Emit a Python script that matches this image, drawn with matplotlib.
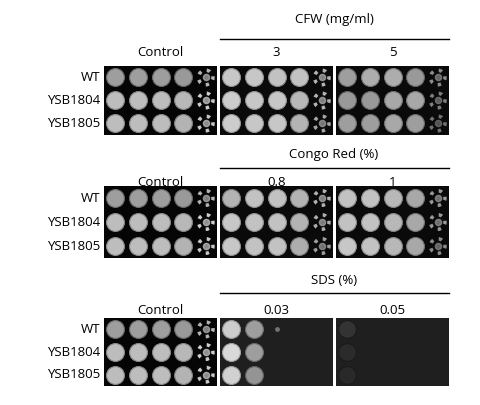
import numpy as np
import matplotlib.pyplot as plt

strains = ["WT", "YSB1804", "YSB1805"]
groups = ["CFW (mg/ml)", "Congo Red (%)", "SDS (%)"]
panel_labels = [["Control", "3", "5"], ["Control", "0.8", "1"], ["Control", "0.03", "0.05"]]

# spot brightness per panel: rows = strains, cols = 5 serial dilutions (0 = no growth)
control = [[0.62, 0.62, 0.62, 0.60, 0.70],
           [0.74, 0.74, 0.74, 0.72, 0.80],
           [0.74, 0.74, 0.74, 0.70, 0.78]]
cfw3 = [[0.78, 0.78, 0.76, 0.76, 0.70],
        [0.80, 0.78, 0.78, 0.72, 0.70],
        [0.80, 0.78, 0.78, 0.70, 0.65]]
cfw5 = [[0.62, 0.68, 0.68, 0.60, 0.55],
        [0.60, 0.60, 0.66, 0.66, 0.50],
        [0.62, 0.62, 0.66, 0.62, 0.45]]
congo08 = [[0.70, 0.76, 0.76, 0.70, 0.70],
           [0.78, 0.76, 0.76, 0.70, 0.68],
           [0.78, 0.76, 0.76, 0.68, 0.62]]
congo1 = [[0.76, 0.76, 0.72, 0.66, 0.60],
          [0.76, 0.76, 0.72, 0.66, 0.60],
          [0.78, 0.76, 0.72, 0.66, 0.55]]
sds003 = [[0.80, 0.62, 0.45, 0.0, 0.0],
          [0.85, 0.62, 0.0, 0.0, 0.0],
          [0.82, 0.58, 0.0, 0.0, 0.0]]
sds005 = [[0.20, 0.0, 0.0, 0.0, 0.0],
          [0.17, 0.0, 0.0, 0.0, 0.0],
          [0.16, 0.0, 0.0, 0.0, 0.0]]
panels = [[control, cfw3, cfw5], [control, congo08, congo1], [control, sds003, sds005]]
backgrounds = [[0.02, 0.04, 0.04], [0.02, 0.04, 0.04], [0.02, 0.12, 0.12]]

W, H = 480, 405
fig = plt.figure(figsize=(W / 100, H / 100), dpi=100)
fig.patch.set_facecolor("white")
plt.rcParams["font.family"] = ["Open Sans", "DejaVu Sans"]

def fx(px):
    return px / W

def fy(py):
    return 1 - py / H

panel_x = [(104, 217), (220, 333), (336, 449)]
panel_y = [(66, 135), (186, 258), (318, 386)]
title_y = [20, 155, 280]
line_y = [39, 168, 293]
label_y = [53, 182, 310]
fs = 9.5

for b in range(3):
    fig.text(fx(334), fy(title_y[b]), groups[b], ha="center", va="center", fontsize=fs)
    fig.add_artist(plt.Line2D([fx(220), fx(449)], [fy(line_y[b])] * 2, color="black", lw=1))
    y0, y1 = panel_y[b]
    for r, s in enumerate(strains):
        yy = y0 + (r + 0.5) * (y1 - y0) / 3
        fig.text(fx(100), fy(yy), s, ha="right", va="center", fontsize=fs)
    for p in range(3):
        x0, x1 = panel_x[p]
        fig.text(fx((x0 + x1) / 2), fy(label_y[b]), panel_labels[b][p], ha="center", va="center", fontsize=fs)
        ax = fig.add_axes([fx(x0), fy(y1), fx(x1 - x0), (y1 - y0) / H])
        ax.set_xlim(0, 5)
        ax.set_ylim(3, 0)
        bg = str(backgrounds[b][p])
        ax.set_facecolor(bg)
        ax.set_xticks([])
        ax.set_yticks([])
        for sp in ax.spines.values():
            sp.set_visible(False)
        vals = np.array(panels[b][p])
        for r in range(3):
            for c in range(5):
                v = vals[r, c]
                if v <= 0:
                    continue
                g = str(v)
                if c == 4:
                    # sparse single colonies at highest dilution
                    ax.scatter(c + 0.5, r + 0.5, s=110, color=bg,
                               edgecolor=g, linewidth=2.5, linestyle=":")
                    ax.scatter(c + 0.5, r + 0.5, s=20, color=g, alpha=0.7)
                elif b == 2 and p == 1 and c == 2:
                    # faint microcolonies
                    ax.scatter(c + 0.5, r + 0.5, s=6, color=g)
                else:
                    ax.scatter(c + 0.5, r + 0.5, s=165, color=g,
                               edgecolor=str(max(v - 0.2, 0.1)), linewidth=0.8)

fig.savefig("out.png", dpi=100)
